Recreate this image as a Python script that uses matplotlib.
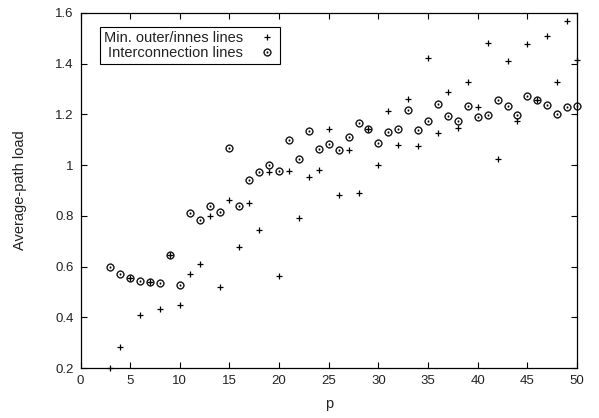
import matplotlib
matplotlib.use("Agg")
import matplotlib.pyplot as plt
from matplotlib.ticker import FuncFormatter, MultipleLocator
import numpy as np

plt.rcParams['font.family'] = ['Liberation Sans', 'DejaVu Sans']

# --------------------
# data: average path load per p
p_outer = np.arange(3, 51)
load_outer = [0.20, 0.284, 0.556, 0.409, 0.538, 0.433, 0.646, 0.447, 0.571, 0.609,
              0.800, 0.518, 0.864, 0.677, 0.849, 0.743, 0.974, 0.564, 0.976, 0.790,
              0.954, 0.981, 1.144, 0.882, 1.058, 0.891, 1.141, 1.000, 1.213, 1.079,
              1.262, 1.075, 1.421, 1.128, 1.288, 1.148, 1.327, 1.228, 1.483, 1.025,
              1.412, 1.175, 1.476, 1.256, 1.509, 1.328, 1.568, 1.414]

p_inter = np.arange(3, 51)
load_inter = [0.599, 0.571, 0.556, 0.544, 0.538, 0.534, 0.646, 0.526, 0.810, 0.784,
              0.840, 0.816, 1.069, 0.839, 0.940, 0.972, 1.000, 0.976, 1.099, 1.024,
              1.135, 1.065, 1.082, 1.060, 1.112, 1.166, 1.141, 1.086, 1.132, 1.142,
              1.217, 1.137, 1.175, 1.241, 1.194, 1.175, 1.234, 1.190, 1.199, 1.256,
              1.234, 1.199, 1.271, 1.256, 1.237, 1.200, 1.228, 1.233]

label_outer = "Min. outer/innes lines"
label_inter = "Interconnection lines"

txt = "#222222"

# --------------------
fig = plt.figure(figsize=(5.99, 4.18), dpi=100)
ax = fig.add_axes([0.1344, 0.1196, 0.8289, 0.8493])

ax.plot(p_outer, load_outer, linestyle="none", marker="+", markersize=5,
        markeredgewidth=0.9, color="black", label=label_outer, clip_on=False)
ax.plot(p_inter, load_inter, linestyle="none", marker=r"$\odot$", markersize=5.5,
        markeredgewidth=0.3, color="black", label=label_inter, clip_on=False)

ax.set_xlim(0, 50)
ax.set_ylim(0.2, 1.6)
ax.xaxis.set_major_locator(MultipleLocator(5))
ax.yaxis.set_major_locator(MultipleLocator(0.2))
ax.yaxis.set_major_formatter(FuncFormatter(lambda v, pos: f"{v:g}"))

ax.tick_params(direction="in", length=4, width=0.8, top=True, right=True,
               labelsize=9.5, pad=5, colors="black", labelcolor=txt)
for s in ax.spines.values():
    s.set_linewidth(0.9)

ax.set_xlabel("p", fontsize=10.5, labelpad=7, color=txt)
ax.set_ylabel("Average-path load", fontsize=10.5, labelpad=20, color=txt)

leg = ax.legend(loc="upper left", bbox_to_anchor=(0.039, 0.961), borderaxespad=0,
                markerfirst=False, fontsize=10.5, fancybox=False, framealpha=1,
                edgecolor="black", handlelength=1.2, handletextpad=1.0,
                labelspacing=0.05, borderpad=0.3)
leg.get_frame().set_linewidth(0.8)
for t in leg.get_texts():
    t.set_color(txt)

plt.savefig("out.png", dpi=100)
plt.close()
